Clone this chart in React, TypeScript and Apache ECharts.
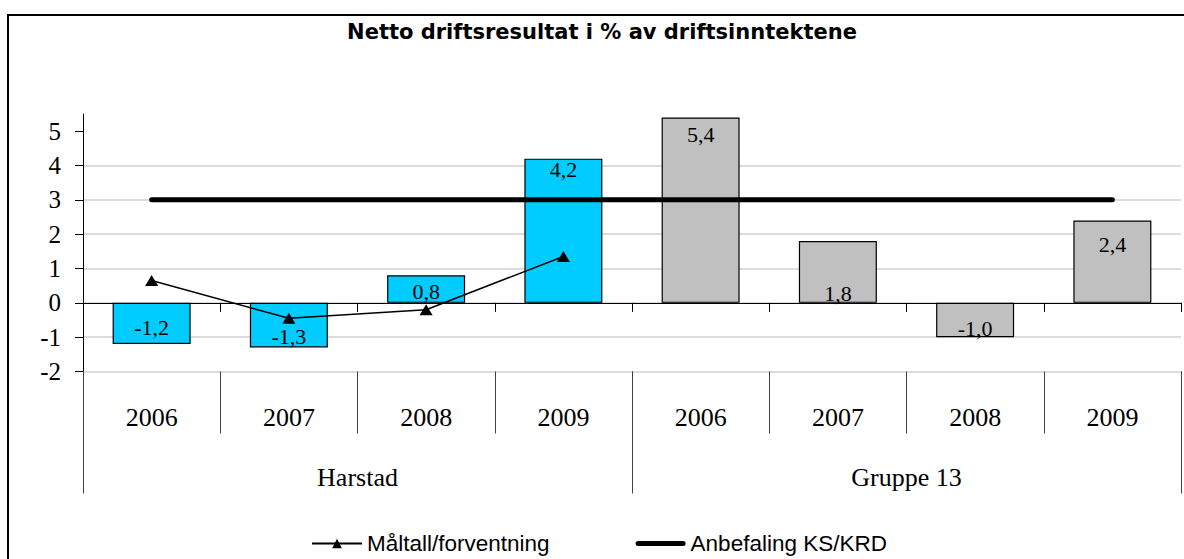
import React, { useEffect, useRef } from "react";
import * as echarts from "echarts";

const years = ["2006", "2007", "2008", "2009", "2006", "2007", "2008", "2009"];
const groups = ["Harstad", "Gruppe 13"];
const harstad = [-1.2, -1.3, 0.8, 4.2];
const gruppe13 = [5.4, 1.8, -1.0, 2.4];
const maltall = [0.65, -0.45, -0.2, 1.35];
const anbefalingLevel = 3;
const yTicks = [-2, -1, 0, 1, 2, 3, 4, 5];

const titleText = "Netto driftsresultat i % av driftsinntektene";
const maltallName = "Måltall/forventning";
const anbefalingName = "Anbefaling KS/KRD";

// label placement per bar (style only)
const labelPlacement: [string, number][] = [
  ["inside", 4],
  ["inside", 11],
  ["inside", 2],
  ["insideTop", -5],
  ["insideTop", 1],
  ["insideBottom", 7],
  ["inside", 8],
  ["insideTop", 8],
];

const fmt = (v: number) => v.toFixed(1).replace(".", ",");

export default function App() {
  const ref = useRef<HTMLDivElement>(null);
  useEffect(() => {
    if (!ref.current) return;
    const chart = echarts.init(ref.current, null, { renderer: "svg" });
    const barValues = [...harstad, ...gruppe13];
    const barColors = [
      ...harstad.map(() => "#00CCFF"),
      ...gruppe13.map(() => "#C0C0C0"),
    ];
    const barData = barValues.map((v, i) => ({
      value: v,
      itemStyle: { color: barColors[i] },
      label: { position: labelPlacement[i][0], offset: [0, labelPlacement[i][1]] },
    }));
    const maltallData = years.map((_, i) => (i < maltall.length ? maltall[i] : null));
    const anbefalingData = years.map(() => anbefalingLevel);
    const serif = "Liberation Serif";
    const sans = "Liberation Sans";

    const baseGraphic: any[] = [
      {
        id: "border",
        type: "rect",
        shape: { x: 8, y: 15, width: 1300, height: 800 },
        style: { fill: "none", stroke: "#000", lineWidth: 2 },
        silent: true,
        z: 100,
      },
      {
        id: "title",
        type: "text",
        x: 602,
        y: 32,
        style: {
          text: titleText,
          align: "center",
          verticalAlign: "middle",
          fontFamily: "DejaVu Sans",
          fontWeight: "bold",
          fontSize: 21,
          fill: "#000",
        },
      },
    ];

    chart.setOption({
      animation: false,
      backgroundColor: "#fff",
      textStyle: { fontFamily: serif },
      grid: { left: 83, right: 3, top: 114, bottom: 187.5, containLabel: false },
      graphic: baseGraphic,
      legend: {
        data: [
          { name: maltallName },
          {
            name: anbefalingName,
            icon: "path://M2.5,0 L47.5,0 A2.5,2.5 0 0 1 47.5,5 L2.5,5 A2.5,2.5 0 0 1 2.5,0 Z",
          },
        ],
        left: 306,
        top: 527,
        itemWidth: 50,
        itemHeight: 12,
        itemGap: 86,
        textStyle: { fontFamily: sans, fontSize: 22.5, color: "#000" },
      },
      xAxis: [
        {
          type: "category",
          data: years.map((_, i) => String(i)),
          axisLine: { show: true, onZero: true, lineStyle: { color: "#000", width: 1 } },
          axisTick: { show: true, length: 9, lineStyle: { color: "#000" } },
          axisLabel: { show: false },
          splitLine: { show: false },
        },
        {
          type: "category",
          position: "bottom",
          data: years,
          axisLine: { show: false, onZero: false },
          axisTick: { show: true, length: 62, lineStyle: { color: "#404040" } },
          axisLabel: {
            interval: 0,
            margin: 33,
            fontFamily: serif,
            fontSize: 26,
            color: "#000",
          },
          splitLine: { show: false },
        },
        {
          type: "category",
          position: "bottom",
          data: groups,
          axisLine: { show: false, onZero: false },
          axisTick: { show: true, length: 122, lineStyle: { color: "#404040" } },
          axisLabel: {
            interval: 0,
            margin: 93,
            fontFamily: serif,
            fontSize: 26,
            color: "#000",
          },
          splitLine: { show: false },
        },
      ],
      yAxis: [
        {
          type: "value",
          min: -2,
          max: 5.5,
          interval: 1,
          axisLine: { show: true, lineStyle: { color: "#000", width: 1 } },
          axisTick: { show: true, length: 8, customValues: yTicks, lineStyle: { color: "#000" } },
          axisLabel: { show: false },
          splitLine: {
            show: true,
            showMaxLine: false,
            lineStyle: { color: "#d0d0d0", width: 1.5 },
          },
        },
      ],
      series: [
        {
          type: "bar",
          name: "Netto driftsresultat",
          xAxisIndex: 0,
          yAxisIndex: 0,
          data: barData,
          barWidth: 78,
          itemStyle: { borderColor: "#000", borderWidth: 1.2 },
          label: {
            show: true,
            color: "#000",
            fontFamily: serif,
            fontSize: 22,
            formatter: (p: any) => fmt(p.value),
          },
          z: 2,
        },
        {
          type: "line",
          name: maltallName,
          xAxisIndex: 0,
          data: maltallData,
          symbol: "triangle",
          symbolSize: [13, 11],
          itemStyle: { color: "#000" },
          lineStyle: { color: "#000", width: 1.5 },
          z: 4,
        },
        {
          type: "line",
          name: anbefalingName,
          xAxisIndex: 0,
          data: anbefalingData,
          symbol: "none",
          itemStyle: { color: "#000" },
          lineStyle: { color: "#000", width: 5, cap: "round" },
          z: 3,
        },
      ],
    });

    // y-axis tick labels, placed through the axis scale
    const yLabelGraphics = yTicks.map((v) => {
      const py = chart.convertToPixel({ yAxisIndex: 0 }, v) as number;
      return {
        id: "ylab" + v,
        type: "text",
        x: 61,
        y: py,
        silent: true,
        style: {
          text: String(v),
          align: "right",
          verticalAlign: "middle",
          fontFamily: serif,
          fontSize: 25,
          fill: "#000",
        },
      };
    });
    chart.setOption({ graphic: [...baseGraphic, ...yLabelGraphics] });

    return () => chart.dispose();
  }, []);
  return (
    <div
      ref={ref}
      style={{ position: "fixed", left: 0, top: 0, width: 1184, height: 559, background: "#fff" }}
    />
  );
}
